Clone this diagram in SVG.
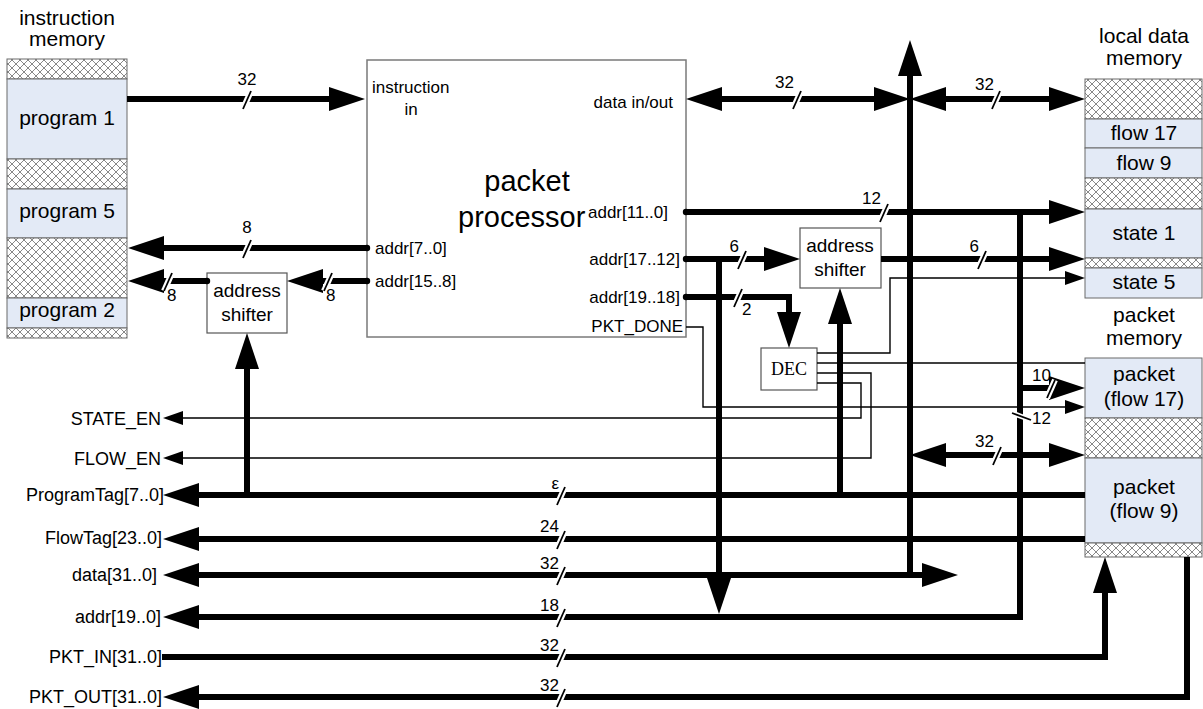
<svg xmlns="http://www.w3.org/2000/svg" xmlns:xlink="http://www.w3.org/1999/xlink" width="1203" height="709" viewBox="0 0 1203 709">
<defs>
<pattern id="hatch" width="8" height="8" patternUnits="userSpaceOnUse">
<rect width="8" height="8" fill="#fff"/>
<path d="M0,0 L8,8 M8,0 L0,8" stroke="#6a6a6a" stroke-width="0.8"/>
</pattern>
<marker id="ah" viewBox="0 0 36 24" refX="2" refY="12" markerWidth="36" markerHeight="24" markerUnits="userSpaceOnUse" orient="auto-start-reverse">
<path d="M0,0 L36,12 L0,24 z" fill="#000"/>
</marker>
<marker id="at" viewBox="0 0 20 14" refX="1" refY="7" markerWidth="20" markerHeight="14" markerUnits="userSpaceOnUse" orient="auto-start-reverse">
<path d="M0,0 L20,7 L0,14 z" fill="#000"/>
</marker>
<g id="sl">
<path d="M4,-8 L-4,10" stroke="#fff" stroke-width="6"/>
<path d="M4,-8 L-4,10" stroke="#000" stroke-width="1.8"/>
</g>
</defs>
<style>
text{font-family:"Liberation Sans",Arial,sans-serif;fill:#000}
.mem{font-size:21px;text-anchor:middle}
.port{font-size:17px}
.sig{font-size:18px;text-anchor:end}
.bus{font-size:17px}
.hat{fill:url(#hatch);stroke:#6a6a6a;stroke-width:1}
.blu{fill:#e3eaf6;stroke:#6a6a6a;stroke-width:1}
.box{fill:#fff;stroke:#555;stroke-width:1.2}
.thick{fill:none;stroke:#000;stroke-width:6;stroke-linejoin:miter}
.thin{fill:none;stroke:#000;stroke-width:1.4}
.e{marker-end:url(#ah)}
.b{marker-start:url(#ah);marker-end:url(#ah)}
.te{marker-end:url(#at)}
</style>
<rect width="1203" height="709" fill="#fff"/>

<g id="instruction-memory">
<text class="mem" x="67" y="25">instruction</text>
<text class="mem" x="67" y="46">memory</text>
<rect class="hat" x="7" y="59" width="120" height="20"/>
<rect class="blu" x="7" y="79" width="120" height="80"/>
<rect class="hat" x="7" y="159" width="120" height="30"/>
<rect class="blu" x="7" y="189" width="120" height="49"/>
<rect class="hat" x="7" y="238" width="120" height="60"/>
<rect class="blu" x="7" y="298" width="120" height="30"/>
<rect class="hat" x="7" y="328" width="120" height="10"/>
<text class="mem" x="67" y="125">program 1</text>
<text class="mem" x="67" y="218">program 5</text>
<text class="mem" x="67" y="317">program 2</text>
</g>

<g id="local-data-memory">
<text class="mem" x="1144" y="43">local data</text>
<text class="mem" x="1144" y="65">memory</text>
<rect class="hat" x="1085" y="79" width="117" height="40"/>
<rect class="blu" x="1085" y="119" width="117" height="29"/>
<rect class="blu" x="1085" y="148" width="117" height="30"/>
<rect class="hat" x="1085" y="178" width="117" height="31"/>
<rect class="blu" x="1085" y="209" width="117" height="49"/>
<rect class="hat" x="1085" y="258" width="117" height="10"/>
<rect class="blu" x="1085" y="268" width="117" height="30"/>
<text class="mem" x="1144" y="140">flow 17</text>
<text class="mem" x="1144" y="170">flow 9</text>
<text class="mem" x="1144" y="240">state 1</text>
<text class="mem" x="1144" y="289">state 5</text>
</g>

<g id="packet-memory">
<text class="mem" x="1144" y="322">packet</text>
<text class="mem" x="1144" y="345">memory</text>
<rect class="blu" x="1085" y="358" width="117" height="60"/>
<rect class="hat" x="1085" y="418" width="117" height="40"/>
<rect class="blu" x="1085" y="458" width="117" height="85"/>
<rect class="hat" x="1085" y="543" width="117" height="14"/>
<text class="mem" x="1144" y="381">packet</text>
<text class="mem" x="1144" y="406">(flow 17)</text>
<text class="mem" x="1144" y="494">packet</text>
<text class="mem" x="1144" y="518">(flow 9)</text>
</g>

<g id="packet-processor">
<rect x="367" y="60" width="319" height="277" fill="#fff" stroke="#7a7a7a" stroke-width="1.5"/>
<text class="port" x="372" y="93">instruction</text>
<text class="port" x="411" y="115" text-anchor="middle">in</text>
<text class="port" x="673" y="108" text-anchor="end">data in/out</text>
<text x="527" y="191" font-size="29" text-anchor="middle">packet</text>
<text x="458" y="227" font-size="29">processor</text>
<text class="port" x="588" y="218">addr[11..0]</text>
<text class="port" x="375" y="254">addr[7..0]</text>
<text class="port" x="375" y="287">addr[15..8]</text>
<text class="port" x="680" y="265" text-anchor="end">addr[17..12]</text>
<text class="port" x="680" y="303" text-anchor="end">addr[19..18]</text>
<text class="port" x="683" y="332" text-anchor="end">PKT_DONE</text>
</g>

<g id="address-shifter-1">
<rect class="box" x="207" y="273" width="80" height="60"/>
<text x="247" y="297" font-size="19" text-anchor="middle">address</text>
<text x="247" y="321" font-size="19" text-anchor="middle">shifter</text>
</g>

<g id="address-shifter-2">
<rect class="box" x="800" y="228" width="81" height="60"/>
<text x="840" y="252" font-size="19" text-anchor="middle">address</text>
<text x="840" y="276" font-size="19" text-anchor="middle">shifter</text>
</g>

<g id="dec">
<rect class="box" x="761" y="348" width="56" height="42"/>
<text x="789" y="375" font-size="18" text-anchor="middle" style="font-family:'Liberation Serif','Times New Roman',serif">DEC</text>
</g>

<g id="signals">
<text class="sig" x="161" y="425">STATE_EN</text>
<text class="sig" x="161" y="465">FLOW_EN</text>
<text class="sig" x="164" y="501">ProgramTag[7..0]</text>
<text class="sig" x="162" y="544">FlowTag[23..0]</text>
<text class="sig" x="157" y="581">data[31..0]</text>
<text class="sig" x="161" y="623">addr[19..0]</text>
<text class="sig" x="162" y="663">PKT_IN[31..0]</text>
<text class="sig" x="162" y="703">PKT_OUT[31..0]</text>
</g>

<g id="connectors">
<path class="thin te" d="M686,327 H703 V407 H1066"/>
<path class="thin te" d="M817,353 H890 V278 H1066"/>
<path class="thin" d="M817,363 H1085"/>
<path class="thin te" d="M817,373 H871 V458 H182"/>
<path class="thin te" d="M817,383 H861 V418 H182"/>

<path class="thick e" d="M127,99 H331"/>
<path class="thick e" d="M367,248 H162"/>
<path class="thick e" d="M367,281 H321"/>
<path class="thick e" d="M207,281 H162"/>
<path class="thick e" d="M247,498 V367"/>
<path class="thick b" d="M720,99 H876"/>
<path class="thick b" d="M944,99 H1051"/>
<path class="thick e" d="M910,578 V74"/>
<path class="thick e" d="M686,212 H1051"/>
<path class="thick" d="M1020,209 V620"/>
<path class="thick e" d="M686,259 H766"/>
<path class="thick e" d="M719,256 V580"/>
<path class="thick e" d="M881,259 H1051"/>
<path class="thick e" d="M686,297 H789 V314"/>
<path class="thick e" d="M840,498 V322"/>
<path class="thick e" d="M1020,388 H1051"/>
<path class="thick b" d="M944,455 H1051"/>
<path class="thick e" d="M1085,495 H197"/>
<path class="thick e" d="M1085,539 H197"/>
<path class="thick b" d="M197,575 H924"/>
<path class="thick e" d="M1023,617 H197"/>
<path class="thick e" d="M162,657 H1105 V591"/>
<path class="thick e" d="M1187,557 V697 H197"/>

<circle cx="367" cy="248" r="3.2"/>
<circle cx="367" cy="281" r="3.2"/>
<circle cx="207" cy="281" r="3.2"/>
<circle cx="686" cy="212" r="3.2"/>
<circle cx="686" cy="259" r="3.2"/>
<circle cx="686" cy="297" r="3.2"/>

<use xlink:href="#sl" x="247" y="99"/>
<text class="bus" x="247" y="85" text-anchor="middle">32</text>
<use xlink:href="#sl" x="247" y="248"/>
<text class="bus" x="247" y="233" text-anchor="middle">8</text>
<use xlink:href="#sl" x="168" y="281"/>
<text class="bus" x="167" y="301">8</text>
<use xlink:href="#sl" x="328" y="281"/>
<text class="bus" x="326" y="301">8</text>
<use xlink:href="#sl" x="797" y="99"/>
<text class="bus" x="794" y="88" text-anchor="end">32</text>
<use xlink:href="#sl" x="996" y="99"/>
<text class="bus" x="994" y="90" text-anchor="end">32</text>
<use xlink:href="#sl" x="884" y="212"/>
<text class="bus" x="881" y="204" text-anchor="end">12</text>
<use xlink:href="#sl" x="742" y="259"/>
<text class="bus" x="739" y="252" text-anchor="end">6</text>
<use xlink:href="#sl" x="738" y="297"/>
<text class="bus" x="742" y="315">2</text>
<use xlink:href="#sl" x="982" y="259"/>
<text class="bus" x="979" y="252" text-anchor="end">6</text>
<use xlink:href="#sl" x="1051" y="388"/>
<text class="bus" x="1051" y="381" text-anchor="end">10</text>
<path d="M1012,413 L1031,420" stroke="#fff" stroke-width="5"/>
<path d="M1012,413 L1031,420" stroke="#000" stroke-width="1.8"/>
<text class="bus" x="1032" y="424" font-size="16">12</text>
<use xlink:href="#sl" x="997" y="455"/>
<text class="bus" x="994" y="447" text-anchor="end">32</text>
<use xlink:href="#sl" x="561" y="495"/>
<text class="bus" x="559" y="489" text-anchor="end">ε</text>
<use xlink:href="#sl" x="561" y="539"/>
<text class="bus" x="559" y="532" text-anchor="end">24</text>
<use xlink:href="#sl" x="561" y="575"/>
<text class="bus" x="559" y="569" text-anchor="end">32</text>
<use xlink:href="#sl" x="561" y="617"/>
<text class="bus" x="559" y="611" text-anchor="end">18</text>
<use xlink:href="#sl" x="561" y="657"/>
<text class="bus" x="559" y="651" text-anchor="end">32</text>
<use xlink:href="#sl" x="561" y="697"/>
<text class="bus" x="559" y="691" text-anchor="end">32</text>
</g>
</svg>
